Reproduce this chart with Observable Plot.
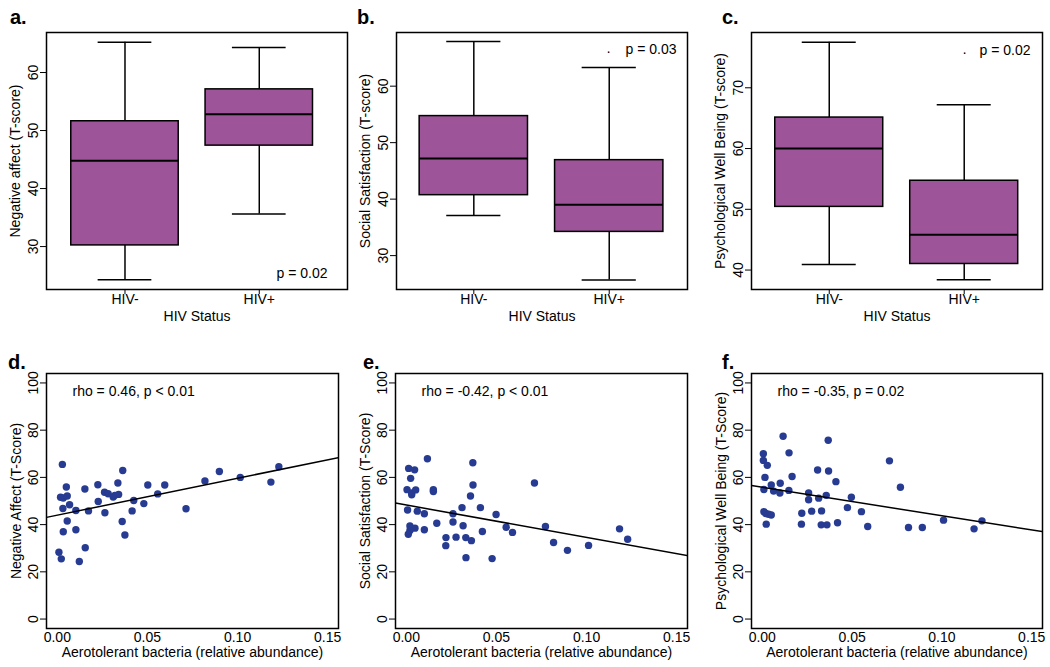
<!DOCTYPE html>
<html>
<head>
<meta charset="utf-8">
<script src="https://cdn.jsdelivr.net/npm/d3@7"></script>
<script src="https://cdn.jsdelivr.net/npm/@observablehq/plot@0.6"></script>
<style>
  html, body { margin: 0; padding: 0; background: white; }
  #root { position: relative; width: 1050px; height: 667px; overflow: hidden; font-family: "Liberation Sans", Arial, sans-serif; }
  .panel { position: absolute; }
  .letter { position: absolute; font-weight: bold; font-size: 20px; line-height: 20px; color: black; }
</style>
</head>
<body>
<div id="root"></div>
<script>
// ---------- Data ----------
const groups = ["HIV-", "HIV+"];
// box stats: [min, Q1, median, Q3, max]
const negAffectBox = [[24.3, 30.2, 44.8, 51.6, 65.2], [35.6, 47.4, 52.8, 57.1, 64.3]];
const socialSatBox = [[37.1, 40.7, 47.2, 54.7, 67.9], [25.7, 34.2, 39.0, 46.9, 63.3]];
const wellBeingBox = [[40.9, 50.4, 60.0, 65.1, 77.5], [38.4, 41.0, 45.8, 54.7, 67.2]];
const boxPValues = ["p = 0.02", "p = 0.03", "p = 0.02"];

// scatter: aerotolerant bacteria (relative abundance) vs T-score
const negAffectX = [0.0028,0.0018,0.0033,0.0055,0.005,0.0031,0.0068,0.0055,0.0033,0.0009,0.0022,0.0103,0.0103,0.0122,0.0153,0.0155,0.0173,0.0225,0.0227,0.0264,0.0262,0.0282,0.031,0.0319,0.034,0.0336,0.0363,0.036,0.0375,0.0415,0.0424,0.048,0.0502,0.0557,0.0596,0.0714,0.0819,0.0899,0.1015,0.1185,0.1229];
const negAffectY = [65.5,51.6,51.3,52.1,55.9,46.8,48.4,41.5,37.0,28.3,25.5,46.0,37.8,24.4,55.1,30.2,45.8,56.9,49.8,45.0,53.7,53.1,51.7,52.4,52.8,57.6,62.9,41.3,35.6,45.8,50.2,48.9,56.8,53.0,56.8,46.7,58.5,62.5,60.0,58.0,64.5];

const socialSatX = [0.0013,0.0046,0.0024,0.0004,0.003,0.003,0.0052,0.0007,0.0061,0.01,0.002,0.0048,0.002,0.0011,0.01,0.0117,0.015,0.015,0.0169,0.0259,0.0259,0.022,0.0219,0.0276,0.0309,0.0315,0.033,0.0361,0.0331,0.0356,0.037,0.0369,0.0411,0.0422,0.0476,0.0498,0.0554,0.0589,0.0711,0.0772,0.0817,0.0894,0.1011,0.1183,0.1228];
const socialSatY = [63.8,63.2,59.6,54.8,53.4,52.6,54.7,46.2,45.7,44.6,39.4,38.5,37.5,35.9,37.8,67.9,54.8,54.0,40.6,44.6,41.1,34.5,31.1,34.7,47.2,39.5,34.5,33.2,26.0,52.1,56.8,66.2,47.2,37.1,25.6,44.3,38.9,36.7,57.6,39.2,32.4,29.1,31.2,38.2,33.8];

const wellBeingX = [0.0006,0.0006,0.0028,0.0015,0.0009,0.0009,0.002,0.0035,0.005,0.0022,0.005,0.0063,0.01,0.0098,0.0116,0.0149,0.0166,0.0148,0.022,0.0218,0.0258,0.0258,0.0275,0.0308,0.0314,0.033,0.0328,0.0356,0.036,0.0367,0.0369,0.041,0.0419,0.0474,0.0496,0.0552,0.0587,0.0708,0.0769,0.0814,0.0891,0.1009,0.1179,0.1223];
const wellBeingY = [70.0,67.2,65.1,60.0,54.9,45.5,44.7,44.4,44.1,40.2,56.8,54.2,57.5,53.4,77.4,70.4,60.4,54.5,44.8,40.2,53.4,50.5,45.7,63.1,51.2,45.8,39.9,52.4,39.9,75.7,62.7,58.2,40.8,47.2,51.6,45.5,39.2,67.0,55.8,38.8,38.8,41.9,38.2,41.6];

// fitted regression lines (intercept, slope)
const fitIntercepts = [44.0, 48.3, 55.8];
const fitSlopes = [156.4, -137.1, -120.5];
const rhoLabels = ["rho = 0.46, p < 0.01", "rho = -0.42, p < 0.01", "rho = -0.35, p = 0.02"];
const xTicks = [0, 0.05, 0.10, 0.15];
const yTicksScatter = [0, 20, 40, 60, 80, 100];

// ---------- Styling / layout ----------
const PURPLE = "#9e5498";
const BLUE = "#263b91";
const FONT = "'Liberation Sans', Arial, sans-serif";
const root = document.getElementById("root");

function place(svg, frame) {
  const [L, R, T, B] = frame;
  const div = document.createElement("div");
  div.className = "panel";
  div.style.left = (L - 46) + "px";
  div.style.top = (T - 32) + "px";
  div.appendChild(svg);
  root.appendChild(div);
}
function letter(txt, left, top) {
  const d = document.createElement("div");
  d.className = "letter";
  d.textContent = txt;
  d.style.left = left + "px";
  d.style.top = top + "px";
  root.appendChild(d);
}
function dims(frame) {
  const [L, R, T, B] = frame;
  return {width: R - L + 46 + 8, height: B - T + 32 + 39,
          marginLeft: 46, marginRight: 8, marginTop: 32, marginBottom: 39};
}
const baseStyle = {fontFamily: FONT, fontSize: "14px", color: "black", background: "transparent", overflow: "visible"};

function axisTitles(xlabel, xdy, ylabel, ydx) {
  return [
    Plot.text([xlabel], {frameAnchor: "bottom", dy: xdy, textAnchor: "middle", lineAnchor: "middle", fontSize: 14}),
    Plot.text([ylabel], {frameAnchor: "left", dx: ydx, rotate: -90, textAnchor: "middle", lineAnchor: "middle", fontSize: 14})
  ];
}

function boxPanel(stats, frame, xdomain, ydomain, yticks, ylabel, pText, pAnchor, pdx, pdy, dotDx) {
  const rows = groups.map((g, i) => ({pos: i + 1, min: stats[i][0], q1: stats[i][1], med: stats[i][2], q3: stats[i][3], max: stats[i][4]}));
  const marks = [
    Plot.ruleX(rows, {x: "pos", y1: "q3", y2: "max", strokeWidth: 1.5}),
    Plot.ruleX(rows, {x: "pos", y1: "min", y2: "q1", strokeWidth: 1.5}),
    Plot.ruleY(rows, {y: "max", x1: d => d.pos - 0.2, x2: d => d.pos + 0.2, strokeWidth: 1.5}),
    Plot.ruleY(rows, {y: "min", x1: d => d.pos - 0.2, x2: d => d.pos + 0.2, strokeWidth: 1.5}),
    Plot.rect(rows, {x1: d => d.pos - 0.4, x2: d => d.pos + 0.4, y1: "q1", y2: "q3", fill: PURPLE, stroke: "black", strokeWidth: 1.5}),
    Plot.ruleY(rows, {y: "med", x1: d => d.pos - 0.4, x2: d => d.pos + 0.4, strokeWidth: 2}),
    Plot.text([pText], {frameAnchor: pAnchor, dx: pdx, dy: pdy, textAnchor: "end", lineAnchor: "middle", fontSize: 14}),
    Plot.frame({strokeWidth: 1.5}),
    Plot.axisX({ticks: [1, 2], tickFormat: d => groups[d - 1], tickSize: 5, tickPadding: 0, fontSize: 14, label: null}),
    Plot.axisY({ticks: yticks, tickRotate: -90, tickSize: 6, tickPadding: 3, fontSize: 14, label: null}),
    ...axisTitles("HIV Status", 27.5, ylabel, -31)
  ];
  if (dotDx !== null) {
    marks.push(Plot.text(["·"], {frameAnchor: pAnchor, dx: dotDx, dy: pdy + 2, textAnchor: "middle", lineAnchor: "middle", fontSize: 14}));
  }
  const svg = Plot.plot({
    ...dims(frame), style: baseStyle,
    x: {type: "linear", domain: xdomain},
    y: {domain: ydomain},
    marks
  });
  place(svg, frame);
}

function scatterPanel(xs, ys, k, frame, ylabel) {
  const pts = xs.map((x, i) => ({x, y: ys[i]}));
  const xdom = [-0.006, 0.156];
  const fit = xdom.map(x => ({x, y: fitIntercepts[k] + fitSlopes[k] * x}));
  const svg = Plot.plot({
    ...dims(frame), style: baseStyle,
    x: {domain: xdom},
    y: {domain: [-4, 104]},
    marks: [
      Plot.dot(pts, {x: "x", y: "y", r: 3.7, fill: BLUE}),
      Plot.line(fit, {x: "x", y: "y", strokeWidth: 1.5, clip: true}),
      Plot.text([rhoLabels[k]], {frameAnchor: "top-left", dx: 26, dy: 18, textAnchor: "start", lineAnchor: "middle", fontSize: 14}),
      Plot.frame({strokeWidth: 1.5}),
      Plot.axisX({ticks: xTicks, tickFormat: d3.format(".2f"), tickSize: 0, tickPadding: 4, fontSize: 14, label: null}),
      Plot.axisY({ticks: yTicksScatter, tickRotate: -90, tickSize: 6, tickPadding: 3, fontSize: 14, label: null}),
      ...axisTitles("Aerotolerant bacteria (relative abundance)", 24.5, ylabel, -30)
    ]
  });
  place(svg, frame);
}

// top row
boxPanel(negAffectBox, [46, 347, 32, 289], [0.4155, 2.657], [22.6, 66.9], [30, 40, 50, 60], "Negative affect (T-score)", boxPValues[0], "bottom-right", -20, -16, null);
boxPanel(socialSatBox, [396, 687, 32, 289], [0.429, 2.578], [24.0, 69.5], [30, 40, 50, 60], "Social Satisfaction (T-score)", boxPValues[1], "top-right", -11, 17, -79);
boxPanel(wellBeingBox, [751, 1042, 32, 289], [0.424, 2.58], [36.8, 79.1], [40, 50, 60, 70], "Psychological Well Being (T-score)", boxPValues[2], "top-right", -12, 18, -78);
// bottom row
scatterPanel(negAffectX, negAffectY, 0, [46, 338, 373, 628], "Negative Affect (T-Score)");
scatterPanel(socialSatX, socialSatY, 1, [395, 687, 373, 628], "Social Satisfaction (T-Score)");
scatterPanel(wellBeingX, wellBeingY, 2, [751, 1042, 373, 628], "Psychological Well Being (T-Score)");

letter("a.", 10, 7);
letter("b.", 357, 7);
letter("c.", 722, 7);
letter("d.", 8, 352);
letter("e.", 363, 352);
letter("f.", 722, 352);
</script>
</body>
</html>
